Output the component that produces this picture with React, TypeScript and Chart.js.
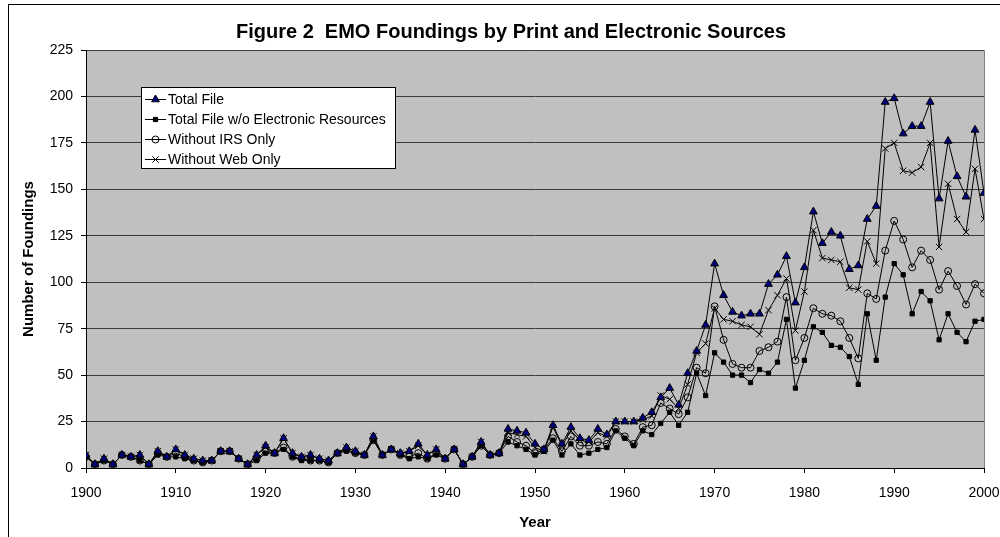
import React, { useEffect, useRef } from "react";
import { Chart, registerables } from "chart.js";
import { drawPoint } from "chart.js/helpers";

Chart.register(...registerables);

const FONT = "'Liberation Sans', Arial, sans-serif";

const titleText = "Figure 2  EMO Foundings by Print and Electronic Sources";
const xAxisTitle = "Year";
const yAxisTitle = "Number of Foundings";

const years: number[] = Array.from({ length: 101 }, (_, i) => 1900 + i);

const totalFile = [
  7, 2, 5, 2, 7, 6, 7, 2, 9, 6,
  10, 7, 5, 4, 4, 9, 9, 5, 2, 7,
  12, 8, 16, 8, 6, 7, 5, 4, 8, 11,
  9, 7, 17, 7, 10, 8, 9, 13, 7, 10,
  5, 10, 2, 6, 14, 7, 8, 21, 20, 19,
  13, 10, 23, 13, 22, 16, 15, 21, 18, 25,
  25, 25, 27, 30, 38, 43, 34, 51, 63, 77,
  110, 93, 84, 82, 83, 83, 99, 104, 114, 89,
  108, 138, 121, 127, 125, 107, 109, 134, 141, 197,
  199, 180, 184, 184, 197, 145, 176, 157, 146, 182,
  148,
];

const withoutElectronic = [
  6, 2, 4, 2, 7, 6, 4, 2, 7, 6,
  6, 5, 4, 3, 4, 9, 9, 5, 2, 4,
  8, 8, 10, 6, 4, 4, 4, 3, 8, 9,
  8, 7, 15, 7, 10, 7, 5, 6, 5, 7,
  5, 10, 2, 6, 12, 7, 8, 14, 12, 10,
  7, 9, 15, 7, 13, 7, 8, 10, 11, 20,
  16, 12, 20, 18, 24, 30, 23, 30, 51, 39,
  62, 57, 50, 50, 46, 53, 51, 57, 80, 43,
  58, 76, 73, 66, 65, 60, 45, 83, 58, 92,
  110, 104, 83, 95, 90, 69, 83, 73, 68, 79,
  80,
];

const withoutIRS = [
  6, 2, 4, 2, 7, 6, 4, 2, 8, 6,
  8, 6, 4, 3, 4, 9, 9, 5, 2, 5,
  9, 8, 11, 6, 5, 4, 4, 3, 8, 10,
  8, 7, 15, 7, 10, 7, 6, 8, 5, 8,
  5, 10, 2, 6, 12, 7, 8, 17, 14, 12,
  8, 10, 16, 9, 17, 12, 12, 14, 13, 21,
  17, 13, 22, 23, 35, 32, 29, 38, 54, 51,
  87, 69, 56, 54, 54, 63, 65, 68, 92, 58,
  70, 86, 83, 82, 79, 70, 59, 94, 91, 117,
  133, 123, 108, 117, 112, 96, 106, 98, 88, 99,
  94,
];

const withoutWeb = [
  7, 2, 5, 2, 7, 6, 7, 2, 9, 6,
  10, 7, 5, 4, 4, 9, 9, 5, 2, 7,
  11, 8, 16, 8, 6, 7, 5, 4, 8, 11,
  9, 7, 17, 7, 10, 8, 9, 12, 7, 10,
  5, 10, 2, 6, 14, 7, 8, 19, 18, 17,
  11, 9, 22, 12, 20, 15, 14, 19, 17, 25,
  25, 25, 26, 28, 39, 37, 32, 45, 62, 67,
  86, 80, 79, 77, 76, 72, 85, 93, 102, 74,
  95, 128, 113, 112, 111, 97, 96, 122, 110, 172,
  175, 160, 159, 162, 175, 119, 153, 134, 127, 161,
  134,
];

const seriesLabels = [
  "Total File",
  "Total File w/o Electronic Resources",
  "Without IRS Only",
  "Without Web Only",
];

const toPoints = (vals: number[]) => years.map((y, i) => ({ x: y, y: vals[i] }));

const plotBgPlugin = {
  id: "plotBg",
  beforeDraw(chart: any) {
    const { ctx, chartArea } = chart;
    ctx.save();
    ctx.fillStyle = "#ffffff";
    ctx.fillRect(0, 0, chart.width, chart.height);
    ctx.fillStyle = "#c0c0c0";
    ctx.fillRect(chartArea.left, chartArea.top, chartArea.right - chartArea.left, chartArea.bottom - chartArea.top);
    ctx.strokeStyle = "#808080";
    ctx.lineWidth = 1;
    ctx.beginPath();
    ctx.moveTo(chartArea.left, chartArea.top + 0.5);
    ctx.lineTo(chartArea.right + 0.5, chartArea.top + 0.5);
    ctx.lineTo(chartArea.right + 0.5, chartArea.bottom);
    ctx.stroke();
    ctx.restore();
  },
};

const overlayPlugin = {
  id: "overlay",
  afterDraw(chart: any) {
    const { ctx } = chart;
    ctx.save();
    // Title
    ctx.fillStyle = "#000";
    ctx.font = `bold 20px ${FONT}`;
    ctx.textAlign = "center";
    ctx.textBaseline = "middle";
    ctx.fillText(titleText, 511, 32);

    // Legend
    const bx = 141.5, by = 87.5, bw = 254, bh = 81;
    ctx.fillStyle = "#ffffff";
    ctx.fillRect(bx, by, bw, bh);
    ctx.strokeStyle = "#000";
    ctx.lineWidth = 1;
    ctx.strokeRect(bx, by, bw, bh);
    chart.data.datasets.forEach((ds: any, i: number) => {
      const y = 99 + i * 20;
      ctx.strokeStyle = "#000";
      ctx.lineWidth = 1;
      ctx.beginPath();
      ctx.moveTo(145, y + 0.5);
      ctx.lineTo(166, y + 0.5);
      ctx.stroke();
      ctx.fillStyle = ds.pointBackgroundColor;
      ctx.strokeStyle = ds.pointBorderColor;
      ctx.lineWidth = ds.pointBorderWidth;
      drawPoint(ctx, { pointStyle: ds.pointStyle, rotation: 0, radius: ds.pointRadius, borderWidth: ds.pointBorderWidth }, 155.5, y + 0.5);
      ctx.fillStyle = "#000";
      ctx.font = `14px ${FONT}`;
      ctx.textAlign = "left";
      ctx.textBaseline = "middle";
      ctx.fillText(ds.label, 168, y + 1);
    });
    ctx.restore();
  },
};

export default function App() {
  const ref = useRef<HTMLCanvasElement | null>(null);

  useEffect(() => {
    if (!ref.current) return;
    const common = { borderColor: "#000", borderWidth: 1, tension: 0, pointBorderColor: "#000", pointBorderWidth: 1, fill: false };
    const chart = new Chart(ref.current, {
      type: "line",
      data: {
        datasets: [
          { ...common, label: seriesLabels[0], data: toPoints(totalFile), pointStyle: "triangle", pointRadius: 4.5, pointBackgroundColor: "#000080" },
          { ...common, label: seriesLabels[1], data: toPoints(withoutElectronic), pointStyle: "rect", pointRadius: 3, pointBackgroundColor: "#000" },
          { ...common, label: seriesLabels[2], data: toPoints(withoutIRS), pointStyle: "circle", pointRadius: 3.5, pointBackgroundColor: "rgba(0,0,0,0)" },
          { ...common, label: seriesLabels[3], data: toPoints(withoutWeb), pointStyle: "crossRot", pointRadius: 4.5, pointBackgroundColor: "#000" },
        ] as any,
      },
      options: {
        animation: false,
        responsive: false,
        maintainAspectRatio: false,
        layout: { padding: { top: 50, left: 10, right: 16, bottom: 0 } },
        plugins: { legend: { display: false }, title: { display: false }, tooltip: { enabled: false } },
        scales: {
          x: {
            type: "linear",
            min: 1900,
            max: 2000,
            afterFit: (s: any) => { s.height = 69; s.paddingLeft = 0; s.paddingRight = 0; },
            ticks: { stepSize: 10, color: "#000", font: { family: FONT, size: 14 }, padding: 12, maxRotation: 0, callback: (v: any) => String(v) },
            grid: { drawOnChartArea: false, drawTicks: true, tickLength: 5, tickColor: "#000" },
            border: { color: "#000", width: 1 },
            title: { display: true, text: xAxisTitle, color: "#000", font: { family: FONT, size: 15, weight: "bold" }, padding: { top: 0, bottom: 5 } },
          },
          y: {
            min: 0,
            max: 225,
            afterFit: (s: any) => { s.width = 76; s.paddingTop = 0; s.paddingBottom = 0; },
            ticks: { stepSize: 25, color: "#000", font: { family: FONT, size: 14 }, padding: 8 },
            grid: { color: "#3a3a3a", lineWidth: 1, tickLength: 5, tickColor: "#000" },
            border: { color: "#000", width: 1 },
            title: { display: true, text: yAxisTitle, color: "#000", font: { family: FONT, size: 15, weight: "bold" }, padding: { top: 10, bottom: 0 } },
          },
        },
      } as any,
      plugins: [plotBgPlugin, overlayPlugin],
    });
    return () => chart.destroy();
  }, []);

  return (
    <div style={{ position: "fixed", left: 0, top: 0, width: 1000, height: 537, overflow: "hidden", background: "#fff" }}>
      <canvas ref={ref} width={1000} height={537} style={{ position: "absolute", left: 0, top: 0, width: 1000, height: 537 }} />
      <div style={{ position: "absolute", left: 8, top: 4, width: 1200, height: 800, border: "1px solid #000", pointerEvents: "none" }} />
    </div>
  );
}
